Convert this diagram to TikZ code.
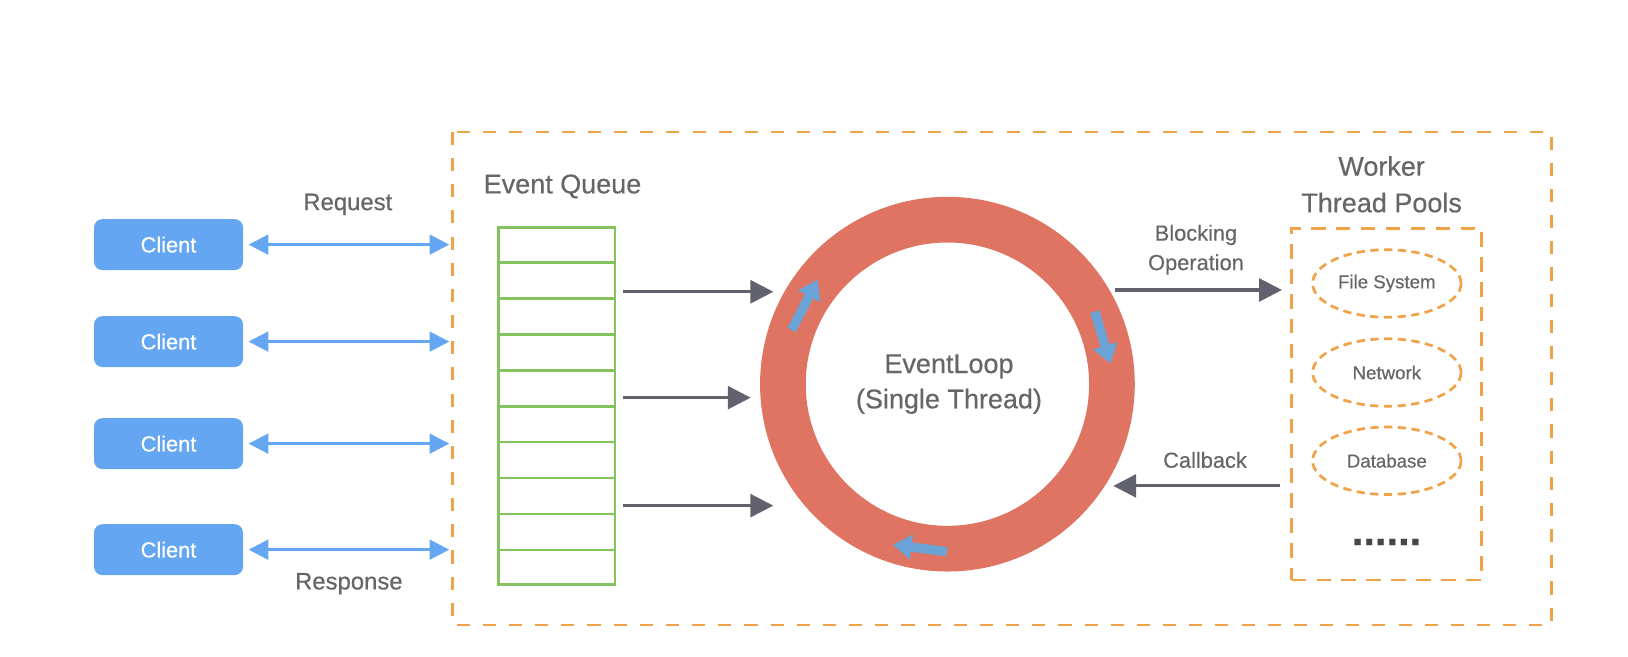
\documentclass[tikz,border=0pt]{standalone}
\usepackage{fontspec}
\setmainfont{Liberation Sans}[FakeBold=0.45]
\usetikzlibrary{arrows.meta,shapes.geometric,calc}
\definecolor{clientblue}{HTML}{64A6F1}
\definecolor{ringred}{HTML}{DF7462}
\definecolor{dashorange}{HTML}{EFA248}
\definecolor{queuegreen}{HTML}{85C35E}
\definecolor{arrowgray}{HTML}{62626E}
\definecolor{textgray}{HTML}{666666}
\definecolor{ringblue}{HTML}{6AA3D5}
\newcommand{\myfs}[2]{\fontsize{#1}{#2}\selectfont}
\begin{document}
\begin{tikzpicture}[x=0.5pt,y=-0.5pt,
  client/.style={rectangle, rounded corners=4pt, fill=clientblue, text=white,
    minimum width=71.75pt, minimum height=24.5pt, inner sep=0pt, font=\myfs{10.5}{12}},
  biarrow/.style={draw=clientblue, line width=1.3pt,
    {Triangle[length=9.5pt,width=9.5pt]}-{Triangle[length=9.5pt,width=9.5pt]}, shorten <=2.5pt},
  grayarrow/.style={draw=arrowgray, line width=1.5pt, -{Triangle[length=11pt,width=11pt]}},
  ringarrow/.style={draw=ringblue, line width=4.5pt, -{Triangle[length=9pt,width=11.5pt]}},
  label/.style={text=textgray, inner sep=0pt, align=center},
  worker/.style={ellipse, draw=dashorange, line width=1.3pt, dash pattern=on 4pt off 2.6pt,
    minimum width=71.5pt, minimum height=32.5pt, inner sep=0pt, text=textgray, font=\myfs{9}{11}},
]
\useasboundingbox (0,0) rectangle (1568,632);

% outer system box
\draw[dashorange, line width=1.3pt, dash pattern=on 6.3pt off 6.3pt] (436,127) rectangle (1494,602);

% clients
\node[client] (c1) at (162.3,235.6) {Client};
\node[client] (c2) at (162.3,329) {Client};
\node[client] (c3) at (162.3,427.3) {Client};
\node[client] (c4) at (162.3,529.4) {Client};
\coordinate (rx) at (432.7,0);
\draw[biarrow] (c1) -- (c1 -| rx);
\draw[biarrow] (c2) -- (c2 -| rx);
\draw[biarrow] (c3) -- (c3 -| rx);
\draw[biarrow] (c4) -- (c4 -| rx);
\node[label, font=\myfs{11.5}{13}, anchor=base] (req) at (335,202.4) {Request};
\node[label, font=\myfs{11.5}{13}, anchor=base] (resp) at (336,567.7) {Response};

% event queue
\node[label, font=\myfs{13}{15}, anchor=base west] (eqlabel) at (465.5,186.2) {Event Queue};
\node[draw=queuegreen, line width=1.3pt, minimum width=56.15pt, minimum height=171.85pt,
  inner sep=0pt] (queue) at (536.2,391.2) {};
\foreach \i in {1,...,9}
  \draw[queuegreen, line width=1.3pt]
    ($(queue.north west)!\i/10!(queue.south west)$) -- ($(queue.north east)!\i/10!(queue.south east)$);

% arrows queue -> ring
\coordinate (e1) at (744.8,281);
\coordinate (e2) at (723,383);
\coordinate (e3) at (744.8,487);
\draw[grayarrow, shorten <=3.3pt] (queue.east |- e1) -- (e1);
\draw[grayarrow, shorten <=3.3pt] (queue.east |- e2) -- (e2);
\draw[grayarrow, shorten <=3.3pt] (queue.east |- e3) -- (e3);

% event loop ring
\node[circle, draw=ringred, line width=22pt, minimum size=158.45pt, inner sep=0pt] (ring) at (912.5,370) {};
\node[label, font=\myfs{13}{17}] (loop) at (914,370) {EventLoop\\(Single Thread)};
\draw[ringarrow] (762.5,317.8) -- (787.5,269.3);
\draw[ringarrow] (1054.6,300.2) -- (1069.5,350.3);
\draw[ringarrow] (911.8,531.3) -- (860,524.6);

% worker thread pools
\node[label, font=\myfs{13}{17.6}] (wlabel) at (1330.7,177.5) {Worker\\Thread Pools};
\node[draw=dashorange, line width=1.3pt, dash pattern=on 7pt off 5pt, minimum width=91.5pt,
  minimum height=169.35pt, inner sep=0pt] (pool) at (1335.5,389.25) {};
\node[worker] (fs) at (1335.7,273) {File System};
\node[worker] (net) at (1335.7,358.8) {Network};
\node[worker] (db) at (1335.7,443.8) {Database};
\node[text=black!72, inner sep=0pt, anchor=base, font=\myfs{20}{22}\bfseries] (dots) at (1335.4,525) {......};

% blocking / callback
\coordinate (b1) at (1073.9,279.3);
\coordinate (cb) at (1072.3,468);
\draw[grayarrow, shorten >=4pt] (b1) -- (pool.west |- b1);
\draw[grayarrow, shorten <=4.8pt] (pool.west |- cb) -- (cb);
\node[label, font=\myfs{10.5}{14.2}] (blk) at (1151.9,240.5) {Blocking\\Operation};
\node[label, font=\myfs{10.5}{12}] (cbl) at (1160.6,443) {Callback};
\end{tikzpicture}
\end{document}
